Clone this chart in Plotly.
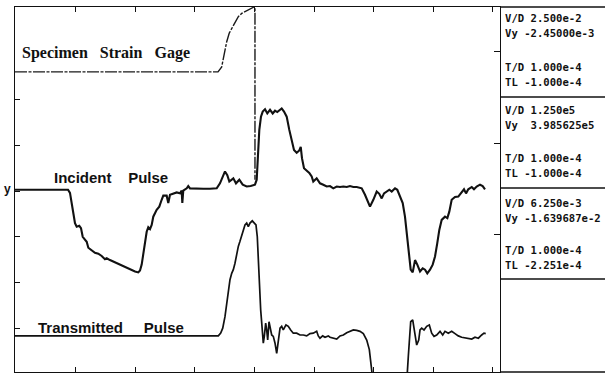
import plotly.graph_objects as go

# ---------------- data (time in microseconds, amplitude in screen divisions) -------------
sg_t = [-2.5, 338.7, 344.9, 347.6, 350.4, 353.3, 357.6, 361.7, 367.2, 372.8, 378.5, 384.0,
        389.6, 395.3, 399.2, 400.8, 400.8]
sg_v = [6.61, 6.61, 6.72, 6.91, 7.09, 7.27, 7.46, 7.56, 7.71, 7.82, 7.89, 7.93,
        7.97, 8.00, 8.03, 8.03, 4.25]

inc_t = [-2.5, 86.6, 89.9, 92.8, 95.5, 98.3, 101.2, 105.5, 108.4, 111.3, 115.1, 118.0, 120.7,
         126.4, 131.9, 137.5, 143.2, 148.7, 151.6, 157.1, 168.4, 179.5, 190.8, 199.2, 204.7,
         207.6, 210.4, 213.1, 216.0, 218.8, 221.5, 224.4, 227.2, 229.9, 235.6, 240.0, 244.0,
         246.7, 252.4, 255.1, 258.0, 263.5, 269.2, 274.8, 277.6, 278.7, 280.3, 286.1, 288.7,
         291.6, 302.9, 313.9, 325.2, 336.5, 342.0, 347.6, 350.4, 354.3, 357.7, 364.4, 368.9,
         374.5, 380.2, 386.9, 393.6, 400.8, 403.7, 408.1, 410.9, 413.8, 417.7, 421.5, 426.1,
         430.6, 434.5, 438.3, 442.9, 445.7, 449.6, 454.1, 458.5, 462.5, 466.4, 470.9, 475.3,
         477.7, 479.8, 483.2, 487.7, 492.1, 496.1, 498.8, 504.5, 510.1, 515.6, 521.4, 526.9,
         532.4, 538.2, 543.7, 549.3, 555.0, 560.5, 566.1, 571.8, 580.2, 585.7, 591.3, 594.1,
         599.7, 605.4, 609.7, 613.8, 617.7, 622.2, 626.6, 630.6, 636.2, 640.0, 644.5, 649.1,
         652.9, 655.8, 658.5, 662.5, 665.9, 669.8, 673.6, 678.2, 682.7, 686.6, 690.4, 695.0,
         699.5, 703.4, 707.2, 710.6, 714.6, 720.2, 724.1, 727.4, 731.4, 737.0, 742.5, 748.2,
         752.1, 755.5, 759.3, 765.1, 768.9, 773.4, 779.0, 783.5, 787.4]
inc_v = [4.03, 4.03, 3.96, 3.77, 3.52, 3.30, 3.22, 3.24, 3.19, 3.00, 2.93, 2.89, 2.76,
         2.70, 2.65, 2.63, 2.58, 2.51, 2.53, 2.49, 2.42, 2.35, 2.28, 2.24, 2.22,
         2.26, 2.39, 2.65, 2.89, 3.11, 3.21, 3.17, 3.26, 3.44, 3.59, 3.66, 3.81,
         3.90, 3.90, 3.74, 3.92, 3.94, 3.97, 3.95, 4.01, 3.74, 4.01, 4.06, 4.11,
         4.06, 4.05, 4.05, 4.05, 4.06, 4.17, 4.35, 4.43, 4.35, 4.21, 4.28, 4.17,
         4.25, 4.14, 4.10, 4.11, 4.14, 4.25, 5.34, 5.63, 5.74, 5.79, 5.70, 5.78,
         5.70, 5.76, 5.73, 5.79, 5.81, 5.74, 5.63, 5.34, 5.08, 4.90, 4.84, 4.89,
         4.97, 4.72, 4.50, 4.45, 4.40, 4.32, 4.21, 4.28, 4.17, 4.14, 4.10, 4.11,
         4.06, 4.10, 4.09, 4.10, 4.09, 4.11, 4.09, 4.09, 4.06, 3.92, 3.74, 3.66,
         3.81, 3.99, 3.94, 3.84, 3.95, 3.99, 4.03, 3.99, 4.06, 4.03, 3.88, 3.74,
         3.44, 3.08, 2.64, 2.28, 2.22, 2.49, 2.39, 2.24, 2.31, 2.28, 2.20, 2.28,
         2.39, 2.57, 2.86, 3.15, 3.37, 3.44, 3.41, 3.55, 3.81, 3.87, 3.88, 3.99,
         4.04, 3.95, 4.04, 4.09, 4.04, 4.10, 4.14, 4.11, 4.04]

tr_t = [-2.5, 339.2, 343.2, 346.6, 350.4, 353.3, 356.0, 358.8, 361.7, 364.4, 367.2, 370.1,
        372.8, 375.6, 378.5, 381.2, 384.0, 386.9, 389.6, 392.4, 396.3, 399.7, 402.5, 404.7,
        406.4, 408.1, 410.4, 412.6, 414.8, 416.5, 418.8, 420.5, 422.2, 424.4, 426.1, 428.9,
        431.6, 434.5, 437.3, 440.0, 442.9, 445.7, 448.4, 452.9, 456.8, 460.8, 465.2, 470.9,
        476.5, 482.0, 487.7, 493.3, 498.8, 504.5, 507.2, 510.1, 514.6, 518.5, 524.0, 526.9,
        532.4, 538.2, 543.7, 549.3, 555.0, 560.5, 566.1, 571.8, 577.3, 582.9, 588.6, 593.0,
        595.8, 597.5, 600.8, 653.1, 656.8, 658.5, 660.2, 662.5, 665.9, 668.6, 672.6, 676.0,
        678.2, 681.0, 684.9, 689.4, 693.8, 697.8, 701.7, 706.2, 711.8, 716.3, 720.2, 725.7,
        731.4, 737.0, 742.5, 748.2, 756.6, 765.1, 770.6, 776.2, 781.8, 785.7, 788.6]
tr_v = [0.83, 0.83, 0.89, 1.00, 1.25, 1.55, 1.84, 2.06, 2.20, 2.28, 2.42, 2.64,
        2.79, 2.90, 3.04, 3.15, 3.26, 3.30, 3.22, 3.30, 3.35, 3.30, 3.26, 3.00,
        2.49, 1.98, 1.40, 1.04, 0.67, 0.82, 1.11, 0.96, 0.74, 1.14, 1.04, 0.85,
        0.82, 0.67, 0.45, 0.71, 1.00, 1.04, 0.96, 1.07, 1.04, 0.96, 0.89, 0.89,
        0.85, 0.85, 0.83, 0.88, 0.89, 0.93, 0.83, 0.78, 0.83, 0.80, 0.83, 0.80,
        0.78, 0.76, 0.83, 0.85, 0.90, 0.93, 0.96, 0.95, 0.93, 0.88, 0.74, 0.53,
        0.23, -0.02, -0.35, -0.35, 0.02, 0.38, 0.82, 1.14, 1.18, 0.96, 0.63, 0.74,
        0.96, 1.00, 0.96, 1.04, 1.07, 0.89, 0.82, 0.85, 0.93, 0.85, 0.93, 0.89,
        0.93, 0.88, 0.83, 0.80, 0.78, 0.76, 0.80, 0.78, 0.85, 0.89, 0.88]

trace_labels = ["Specimen\u00a0\u00a0 Strain\u00a0\u00a0 Gage",
                "Incident\u00a0\u00a0\u00a0 Pulse",
                "Transmitted\u00a0\u00a0\u00a0\u00a0 Pulse"]

panel_texts = [
    ["V/D 2.500e-2", "Vy -2.45000e-3", "T/D 1.000e-4", "TL -1.000e-4"],
    ["V/D 1.250e5", "Vy\u00a0\u00a03.985625e5", "T/D 1.000e-4", "TL -1.000e-4"],
    ["V/D 6.250e-3", "Vy -1.639687e-2", "T/D 1.000e-4", "TL -2.251e-4"],
]

x_ticks = [100, 200, 300, 400, 500, 600, 700, 800]
y_ticks_left = [1, 2, 3, 4, 5, 6]
y_ticks_right = [3.04, 5.05, 7.05]

# ---------------- figure ----------------
W, H = 605, 377
ML, MR, MT, MB = 15, 0, 7, 5
PW = W - ML - MR
PH = H - MT - MB
plot_right_px = 500
xdom = (plot_right_px - ML) / PW

def px_x(px):
    return (px - ML) / PW

def px_y(py):
    return (H - MB - py) / PH

fig = go.Figure()
fig.add_trace(go.Scatter(x=sg_t, y=sg_v, mode="lines",
                         line=dict(color="#1a1a1a", width=1.4, dash="12px,1.5px,3px,1.5px"),
                         hoverinfo="skip"))
fig.add_trace(go.Scatter(x=inc_t, y=inc_v, mode="lines",
                         line=dict(color="#111111", width=2.1),
                         hoverinfo="skip"))
fig.add_trace(go.Scatter(x=tr_t, y=tr_v, mode="lines",
                         line=dict(color="#111111", width=1.7),
                         hoverinfo="skip"))
# dummy trace for right axis ticks
fig.add_trace(go.Scatter(x=[None], y=[None], yaxis="y2", showlegend=False,
                         hoverinfo="skip"))

axis_common = dict(showgrid=False, zeroline=False, showline=True, linecolor="#111",
                   linewidth=1.3, ticks="inside", tickcolor="#111", tickwidth=1.3,
                   showticklabels=False)

fig.update_layout(
    width=W, height=H,
    margin=dict(l=ML, r=MR, t=MT, b=MB, pad=0),
    paper_bgcolor="white", plot_bgcolor="white",
    showlegend=False,
    xaxis=dict(range=[-2.5, 812.6], domain=[0, xdom], tickvals=x_ticks, ticklen=5,
               mirror="ticks", **axis_common),
    yaxis=dict(range=[0.04, 8.03], tickvals=y_ticks_left, ticklen=5,
               mirror=False, **axis_common),
    yaxis2=dict(range=[0.04, 8.03], overlaying="y", side="right", anchor="x",
                tickvals=y_ticks_right, ticklen=6, **axis_common),
)

shapes = []
# extend top and bottom lines across the side panel
for yy in (0, 1):
    shapes.append(dict(type="line", xref="paper", yref="paper", x0=xdom, x1=1, y0=yy, y1=yy,
                       line=dict(color="#111", width=1.3)))
for py in (97, 188, 279):
    shapes.append(dict(type="line", xref="paper", yref="paper", x0=xdom, x1=1,
                       y0=px_y(py), y1=px_y(py), line=dict(color="#111", width=1.3)))
fig.update_layout(shapes=shapes)

ann = []
label_pos = [(20, 53, "Liberation Serif", 16), (52, 177, "Liberation Sans", 15),
             (36, 327, "Liberation Sans", 15)]
for txt, (lx, ly, fam, fs) in zip(trace_labels, label_pos):
    ann.append(dict(text=txt, xref="paper", yref="paper", x=px_x(lx), y=px_y(ly),
                    xanchor="left", yanchor="middle", showarrow=False,
                    font=dict(family=fam, size=fs, color="#111", weight="bold")))

line_py = [[18, 33, 67, 82], [110, 125, 158, 173], [203, 218, 250, 265]]
for block, pys in zip(panel_texts, line_py):
    for txt, py in zip(block, pys):
        ann.append(dict(text=txt, xref="paper", yref="paper", x=px_x(503), y=px_y(py),
                        xanchor="left", yanchor="middle", showarrow=False,
                        font=dict(family="DejaVu Sans Mono", size=10.6, color="#111",
                                  weight="bold")))
ann.append(dict(text="y", xref="paper", yref="paper", x=px_x(2), y=px_y(189),
                xanchor="left", yanchor="middle", showarrow=False,
                font=dict(family="Liberation Sans", size=12, color="#111", weight="bold")))
fig.update_layout(annotations=ann)

fig.write_html("out.html")
